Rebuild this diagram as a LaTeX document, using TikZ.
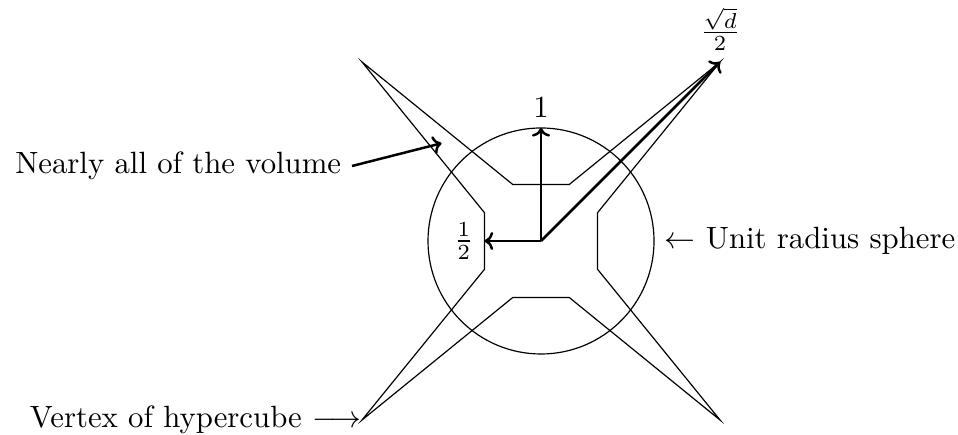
\documentclass[tikz,border=0pt]{standalone}
\usepackage{amsmath,amssymb}
\usetikzlibrary{arrows.meta,calc,positioning}
\begin{document}
\begin{tikzpicture}[every node/.style={scale=1.55},outline/.style={line width=0.6pt},radial/.style={line width=1.25pt,->},pointer/.style={line width=1.25pt,->}]
\useasboundingbox (-9.575,-3.416) rectangle (7.38,4.265);
\coordinate (O) at (0,0);\coordinate (vtr) at (3.17,3.17);\coordinate (vtl) at (-3.17,3.17);\coordinate (vbl) at (-3.17,-3.17);\coordinate (vbr) at (3.17,-3.17);
\draw[outline] (O) circle (2);
\draw[outline] (-0.5,1)--(0.5,1)--(vtr)--(1,0.5)--(1,-0.5)--(vbr)--(0.5,-1)--(-0.5,-1)--(vbl)--(-1,-0.5)--(-1,0.5)--(vtl)--cycle;
\coordinate (top) at (0,2);\coordinate (half) at (-1,0);
\draw[radial] (O)--(top);\draw[radial] (O)--(half);\draw[radial] (O)--(vtr);
\node[anchor=south](one) at (top){$1$};
\node[anchor=east](halflbl) at (half){$\frac{1}{2}$};
\node[anchor=south](sqrtlbl) at (vtr){$\frac{\sqrt{d}}{2}$};
\node[anchor=east](vol) at (-3.345,1.327){Nearly all of the volume};
\coordinate (volpt) at (-1.76,1.73);
\draw[pointer] (vol.east)--(volpt);
\node[anchor=west](sphere) at (2,0){$\leftarrow$ Unit radius sphere};
\node[anchor=east](vertex) at (-2.98,-3.17){Vertex of hypercube $\longrightarrow$};
\end{tikzpicture}
\end{document}
